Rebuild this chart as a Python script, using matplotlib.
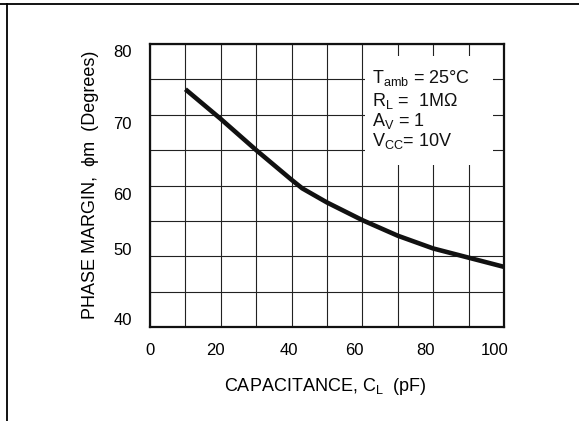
import matplotlib
matplotlib.use("Agg")
import matplotlib.pyplot as plt
from matplotlib.lines import Line2D
from matplotlib.patches import Rectangle
from matplotlib.transforms import ScaledTranslation

plt.rcParams['font.family'] = ['Liberation Sans', 'DejaVu Sans']
plt.rcParams['mathtext.default'] = 'regular'

# ---- data ----
capacitance_pf = [10, 20, 30, 40, 43, 50, 60, 70, 80, 90, 100]
phase_margin_deg = [73.6, 69.4, 65.0, 60.8, 59.6, 57.6, 55.1, 52.9, 51.1, 49.8, 48.5]
x_ticks = [0, 20, 40, 60, 80, 100]
y_ticks = [40, 50, 60, 70, 80]
x_label = r'CAPACITANCE, C$_{\mathregular{L}}$  (pF)'
y_label = 'PHASE MARGIN,  ϕm  (Degrees)'
note_lines = [r'$\mathregular{T_{amb}}$ = 25°C',
              r'$\mathregular{R_{L}}$ =  1MΩ',
              r'$\mathregular{A_{V}}$ = 1',
              r'$\mathregular{V_{CC}}$= 10V']

W, H, DPI = 579, 421, 100
fig = plt.figure(figsize=(W / DPI, H / DPI), dpi=DPI)
ax = fig.add_axes([150 / W, 1 - 327 / H, 354 / W, 283 / H])

ax.plot(capacitance_pf, phase_margin_deg, color='#111111', lw=3.3,
        solid_capstyle='butt', solid_joinstyle='round', zorder=5)

ax.set_xlim(0, 100)
ax.set_ylim(40, 80)
ax.set_xticks(x_ticks)
ax.set_xticks(range(0, 101, 10), minor=True)
ax.set_yticks(y_ticks)
ax.set_yticks(range(40, 81, 5), minor=True)
ax.set_xticklabels([str(v) for v in x_ticks])
ax.set_yticklabels([str(v) for v in y_ticks])
ax.grid(True, which='both', color='#222222', lw=0.8, zorder=1)
ax.set_axisbelow(True)
ax.tick_params(which='both', length=0)
ax.tick_params(axis='x', pad=11.5, labelsize=12)
ax.tick_params(axis='y', pad=13, labelsize=12)
for s in ax.spines.values():
    s.set_linewidth(1.6)
    s.set_color('#111111')
    s.set_zorder(6)

# per-label nudges (pixels) to mimic the original layout
x_dx = [0, -5, -3, -8, -8, -9]
for lab, dx in zip(ax.get_xticklabels(), x_dx):
    lab.set_transform(lab.get_transform() + ScaledTranslation(dx / DPI, 0, fig.dpi_scale_trans))
y_dy = [8, 7, -9, -8, -7]  # for 40,50,60,70,80 (positive = up)
for lab, dy in zip(ax.get_yticklabels(), y_dy):
    lab.set_transform(lab.get_transform() + ScaledTranslation(0, dy / DPI, fig.dpi_scale_trans))

ax.set_xlabel(x_label, fontsize=13)
ax.xaxis.label.set_va('baseline')
ax.xaxis.set_label_coords(0.494, -0.226)
ax.set_ylabel(y_label, fontsize=13)
ax.yaxis.label.set_va('center')
ax.yaxis.set_label_coords(-0.169, 0.503)

# condition box
ax.add_patch(Rectangle((0.607, 0.572), 0.362, 0.386, transform=ax.transAxes,
                       facecolor='white', edgecolor='none', zorder=3))
for txt, yb in zip(note_lines, [0.863, 0.781, 0.710, 0.640]):
    ax.text(0.627, yb, txt, transform=ax.transAxes, fontsize=13,
            va='baseline', ha='left', zorder=4, color='#111111')

# page border lines
fig.add_artist(Line2D([0, 1], [1 - 4 / H, 1 - 4 / H], transform=fig.transFigure,
                      color='black', lw=1.3))
fig.add_artist(Line2D([7.3 / W, 7.3 / W], [0, 1 - 4 / H], transform=fig.transFigure,
                      color='black', lw=1.3))

fig.savefig('out.png', dpi=DPI, facecolor='white')
